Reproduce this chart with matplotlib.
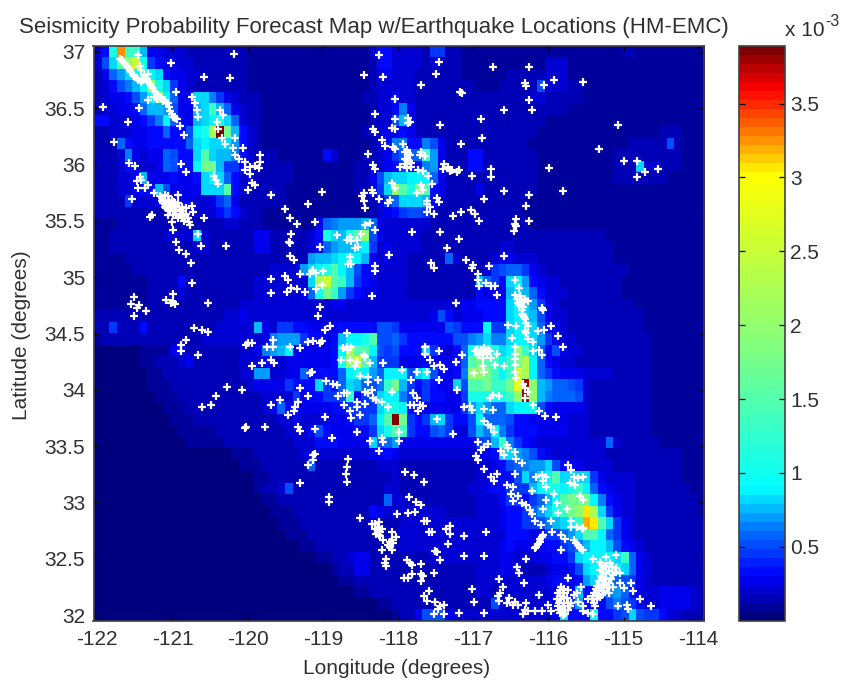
import numpy as np
import matplotlib
matplotlib.use('Agg')
import matplotlib.pyplot as plt
from matplotlib.colors import LinearSegmentedColormap

plt.rcParams['font.family'] = ['Liberation Sans', 'DejaVu Sans']
plt.rcParams['axes.unicode_minus'] = False

# forecast cells, top row = north, one base-36 digit per cell (see level_values)
rows = [
    "35eqffb443 3322222222 1111111111 1111113553 3332662211 1111111111 1111111112 2111111111",
    "37cgike654 4332222222 1111111111 1111112553 3332322211 1111111113 3311111111 1111111111",
    "248acdedc5 4433222222 1111111111 1111112343 3322222211 1111222223 3311111111 1111111111",
    "23579bdiec 6432222222 1111111111 1111112333 3322222222 1112222273 3322111111 1111111111",
    "234457adid 844cc96432 2211111111 1111122335 3322222222 2222222332 2222111111 1111111111",
    "2334458bba 744bcfb843 2211111111 1111112335 9422222222 2222222222 2211111111 1111111111",
    "553334569d 854bcdec83 2211111111 1111112337 b422222222 2222222221 1111111111 1111111111",
    "2233344558 557dejzhb5 3211111111 1111122344 5422222222 2222222211 1111111111 1111222111",
    "2228544555 558cdccca5 3211111111 1111112359 9559742222 2222222111 1111111111 2222272111",
    "2223943448 755cgcbb95 3222111111 5311122346 888fa42225 5222222211 1111111122 2222222111",
    "2223533348 755dhhb664 3222221111 1111222345 6559a42225 5222222211 1111111122 2c33222111",
    "222334b444 5445cdc853 3222221111 11112247bc cddd842222 2222222211 1111111122 2222211111",
    "22233455b7 4444cccg53 2222211111 11112246ci gehg542222 4222222211 1111111111 1111111111",
    "2222633344 4443346842 2222211111 1111122468 cccb432222 2222222111 1111111111 1111111111",
    "2222222223 3333335653 2211111111 1111112345 6776322222 2222221111 1111111111 1111111111",
    "1112222222 2222222332 2211111114 89aaab8433 3333222222 2222222111 1111111111 1111111111",
    "1122222223 333c322222 2442222235 ecbegi7433 3332222222 2222222222 2222222111 1111111111",
    "1122222222 2223322222 2442222235 8abbcd6343 3332222222 2223322222 2222222211 1111111111",
    "1111222222 2222222222 22222222ab bcdedb4343 3222228322 2234433322 2222222211 1111111111",
    "1111122222 2222222222 2223333acd egdb754333 3222222222 2367886432 2222222222 1111111111",
    "1111111222 2522222222 23333333cj kgfb654333 3222222222 b865cda543 3222222221 1111111111",
    "1111111222 2322222222 233333348e hfa6544333 3222222222 5444bcb853 3322222221 1111111111",
    "1111111222 2222222223 3333333333 3443333333 3333333344 5555cdca64 3222222222 2111111111",
    "2222222222 2222222334 3333333333 3333333333 3333475344 4555cdcb74 3322222222 2211111111",
    "2262225222 2222223333 3b43665544 4455555776 4444447655 5d66cddc85 4322222222 2211111111",
    "1222222222 2222333333 3349aaa655 45bddeg778 6555555779 ac99cddca6 4332222222 2221111111",
    "0000001111 4422222223 349abd4444 45djggd767 555c64358e efecdifc85 7433222222 2221111111",
    "0000001122 2342222223 3343344444 45eikgb666 444544458g hgfdfhjd85 4332222222 2221111111",
    "0000000112 2222222223 3aa3344855 558deda8dd d7cd75459i ihfdfkjd86 5444333322 2221111111",
    "0000000111 2222222222 344446555c 658cb879fh b656544c7g ghffhlxiba 8876322222 2221111111",
    "0000000011 1222222222 2233336455 667f567cdd 964655446e eeeefixib9 8887322222 2221111111",
    "0000000001 1122222222 2234854444 4556666cee d54444446a ca88cddd75 4444322222 2221111111",
    "0000000000 1112222222 2222334333 4445668dgz h656bc6557 d888755444 4433322222 2221111111",
    "0000000000 0111112222 2222233357 5444556ceg f655786437 b9d9655544 4433322222 2221111111",
    "0000000000 0011111222 2222223335 554444c78a 4444444444 67bf965433 3333333832 2222111111",
    "0000000000 0000000011 1222222333 3333334454 3333333333 445cca9754 3333333222 2222222111",
    "0000000000 0000000001 1122222282 2222222333 2222222222 3345789aac 7544333322 2222222111",
    "0000000000 0000000000 0112222222 2222222223 2222222222 333557c9cd gcccc64333 3222222111",
    "0000000000 0000000000 0122372222 2222222233 2222222223 3455666bde edefd85433 3222222211",
    "0000000000 0000000000 0011222222 2222222283 3222222222 333566568b dghhhd9543 3222222221",
    "0000000000 0000000000 0001112222 2222225433 3333332222 33345568ac efhimjc643 3222222221",
    "0000000000 0000000000 0000111222 2222223222 3333333333 3334556679 bcdfpmgc64 3222222222",
    "0000000000 0000000000 0000011122 2222222222 3333333333 3333555446 68acggd864 3222222222",
    "0000000000 0000000000 0000000112 2222222222 3333333333 3334544445 5679bddb75 4322222222",
    "0000000000 0000000000 0000000001 1223442222 2222333333 3334433344 556cddddcf 8432222222",
    "0000000000 0000000000 0000000000 0122442222 2222222222 3334442223 4457cddddc 8432222222",
    "0000000000 0000000000 0000000000 0011222222 2222222222 3333333334 5545accb87 6432222222",
    "0000000000 0000000000 0000000000 0000112222 2222222222 3322333333 445b5569a8 5433444432",
    "0000000000 0000000000 0000000000 0000000112 2222222222 2273333333 346a555797 6533444432",
    "0000000000 0000000000 0000000000 0000000001 2247774333 3333333333 4c555d5567 c766533222",
]
# value (x 10^-3) of each digit 0-9a-z
level_values = [0.0, 0.07, 0.14, 0.21, 0.285, 0.36, 0.44, 0.52, 0.59, 0.65, 0.71, 0.77,
                0.82, 0.88, 1.09, 1.30, 1.51, 1.72, 1.96, 2.23, 2.50, 2.77, 3.04, 3.09,
                3.15, 3.20, 3.26, 3.31, 3.39, 3.47, 3.54, 3.62, 3.69, 3.77, 3.83, 3.89]

# colour bar stops, value x 10^-3 and colour
stop_values = [0.0, 0.285, 0.59, 0.88, 1.83, 3.04, 3.31, 3.62, 3.89]
stop_colors = ['#00007f', '#0000ff', '#0070ff', '#00ffff', '#80ff80', '#ffff00', '#ff8000', '#ff0000', '#7f0000']

# earthquake epicentres (lon, lat), read against the frame before the ticks were measured
quakes = [
    (-121.67,36.89),(-121.63,36.86),(-121.58,36.83),(-121.54,36.79),(-121.50,36.75),(-121.45,36.72),
    (-121.43,36.92),(-121.41,36.83),(-121.39,36.79),(-121.34,36.73),(-121.30,36.76),(-121.30,36.69),
    (-121.26,36.65),(-121.21,36.60),(-121.17,36.57),(-121.12,36.54),(-121.08,36.53),(-121.04,36.50),
    (-121.01,36.43),(-120.97,36.385),(-120.92,36.36),(-121.30,36.53),(-121.42,36.46),(-121.90,36.47),
    (-121.57,36.34),(-121.00,36.85),(-120.94,36.60),(-120.56,36.73),(-120.23,36.72),(-120.17,36.93),
    (-120.88,36.30),(-120.83,36.225),(-121.75,36.16),(-120.73,36.56),(-120.69,36.50),(-120.66,36.44),
    (-120.64,36.385),(-120.35,36.44),(-120.32,36.40),(-120.40,36.34),(-120.38,36.275),(-120.33,36.20),
    (-120.29,36.15),(-120.16,36.20),(-120.19,36.11),(-120.06,36.11),(-120.16,36.05),(-120.10,36.02),
    (-120.03,35.99),(-119.96,35.95),(-119.90,35.955),(-119.83,36.05),(-119.83,35.99),(-119.84,35.94),
    (-120.03,35.92),(-119.96,35.885),(-119.94,35.805),(-119.90,35.79),(-119.99,35.75),(-121.55,35.985),
    (-121.47,35.955),(-120.87,35.97),(-120.80,35.90),(-120.44,35.87),(-120.41,35.83),(-120.38,35.80),
    (-119.68,35.70),(-119.02,35.73),(-119.20,35.625),(-119.50,35.58),(-119.44,35.505),(-119.35,35.45),
    (-119.11,35.465),(-119.42,35.36),(-119.45,35.29),(-119.43,35.28),(-119.44,35.17),(-119.39,35.14),
    (-119.31,35.01),(-119.50,35.00),(-119.46,34.96),(-119.68,34.97),(-119.68,34.85),(-119.48,34.86),
    (-119.42,34.89),(-119.35,34.88),(-119.24,34.86),(-119.17,35.01),(-119.13,35.05),(-119.09,35.02),
    (-119.00,35.04),(-119.15,35.04),(-119.09,34.88),(-119.02,34.915),(-119.04,34.73),(-119.07,34.645),
    (-118.91,34.56),(-118.98,34.53),(-119.04,35.25),(-118.82,35.35),(-118.65,35.34),(-118.69,35.31),
    (-118.63,35.30),(-118.56,35.31),(-118.50,35.36),(-118.58,35.24),(-118.54,35.25),(-118.45,35.44),
    (-118.39,35.46),(-118.32,35.40),(-118.65,35.16),(-118.63,35.10),(-118.67,35.10),(-118.32,35.08),
    (-118.32,35.04),(-118.36,34.82),(-118.13,35.18),
    # coast blob
    (-121.12,35.675),(-121.08,35.70),(-121.04,35.69),(-120.99,35.66),(-121.10,35.63),(-121.04,35.62),
    (-120.97,35.60),(-120.91,35.70),(-120.91,35.63),(-120.93,35.57),(-120.86,35.60),(-120.80,35.59),
    (-120.73,35.61),(-120.71,35.55),(-120.88,35.54),(-120.82,35.515),(-120.77,35.47),(-120.75,35.44),
    (-120.97,35.53),(-120.91,35.50),(-120.99,35.47),(-120.98,35.40),(-121.04,35.53),(-120.56,35.505),
    (-121.06,35.59),(-121.01,35.57),(-120.95,35.56),(-121.28,35.51),(-121.25,35.53),(-121.41,35.86),
    (-121.39,35.83),(-121.45,35.82),(-121.44,35.76),(-121.34,35.76),(-121.30,35.79),(-121.23,35.72),
    (-121.51,35.665),(-120.94,35.29),(-120.65,35.36),(-120.61,35.26),(-120.89,35.22),(-120.80,35.19),
    (-120.74,35.11),(-120.28,35.26),(-120.72,34.94),(-121.49,34.81),(-121.53,34.75),(-121.42,34.74),
    (-121.45,34.72),(-121.49,34.65),(-121.33,34.69),(-121.07,34.79),(-120.98,34.84),(-121.00,34.76),
    (-120.95,34.755),(-120.97,34.77),(-120.52,34.76),(-120.70,34.54),(-120.59,34.53),(-120.52,34.51),
    (-118.47,36.75),(-118.21,36.73),(-118.27,36.92),(-118.06,36.54),(-118.32,36.41),(-118.06,36.36),
    (-118.10,36.29),(-118.06,36.275),(-118.34,36.275),(-118.32,36.25),(-118.23,36.18),(-118.19,36.13),
    (-118.08,36.12),(-118.06,36.10),(-118.41,36.06),(-118.34,35.96),(-118.32,35.93),(-118.36,35.75),
    (-118.34,35.72),(-118.47,35.72),(-118.49,35.69),(-118.47,35.65),(-118.45,35.59),(-118.26,35.665),
    (-118.15,35.63),(-118.10,35.805),(-118.06,35.76),(-118.12,35.66),
    # north east
    (-117.48,36.86),(-117.52,36.76),(-117.72,36.66),(-117.20,36.60),(-117.18,36.59),(-116.77,36.82),
    (-116.29,36.82),(-116.35,36.675),(-116.34,36.65),(-116.10,36.66),(-115.96,36.70),(-115.59,36.69),
    (-116.29,36.53),(-116.25,36.44),(-116.62,36.44),(-116.93,36.36),(-117.46,36.31),(-116.91,36.20),
    (-117.19,36.15),(-115.12,36.31),(-115.38,36.10),(-115.04,36.00),(-114.88,36.00),(-114.77,35.90),
    (-114.88,35.86),(-114.60,35.93),(-116.03,35.94),(-115.85,35.74),(-117.88,36.37),(-117.86,36.34),
    (-117.88,36.33),(-117.95,36.15),(-117.90,36.095),(-117.86,36.05),(-117.90,36.01),(-117.84,35.98),
    (-117.90,35.94),(-117.99,35.95),(-117.71,36.08),(-117.66,36.04),(-117.73,36.05),(-117.75,35.92),
    (-117.69,35.91),(-117.62,35.87),(-117.71,35.79),(-117.69,35.75),(-117.77,35.72),(-117.57,35.80),
    (-117.50,35.68),(-117.48,35.64),(-117.64,35.65),(-117.60,35.60),(-117.64,35.62),(-117.63,35.55),
    (-117.55,35.54),(-117.41,35.97),(-117.43,35.93),(-117.36,35.95),(-117.31,35.92),(-117.33,35.91),
    (-117.21,35.92),(-117.24,35.90),(-117.04,35.87),(-116.80,35.93),(-116.80,35.86),(-116.62,35.74),
    (-116.29,35.70),(-116.88,35.67),(-116.34,35.61),(-116.47,35.495),(-116.48,35.45),(-116.46,35.43),
    (-116.49,35.39),(-116.29,35.48),(-117.30,35.52),(-117.19,35.55),(-117.06,35.57),(-117.00,35.54),
    (-116.95,35.48),(-117.83,35.38),(-117.46,35.38),(-117.21,35.32),(-117.37,35.245),(-116.62,35.17),
    (-117.12,35.14),(-117.58,35.11),(-117.55,35.07),(-117.03,35.09),(-117.05,35.065),(-116.82,35.085),
    (-116.97,35.01),(-116.96,34.96),(-116.95,34.91),(-116.86,34.94),(-116.80,34.91),(-116.74,34.91),
    (-116.71,34.83),(-117.26,34.76),(-116.48,34.96),(-116.42,34.89),(-116.48,34.83),(-116.415,34.82),
    (-116.35,34.80),(-116.305,34.775),(-116.44,34.76),(-116.39,34.70),(-116.37,34.66),(-116.35,34.62),
    (-116.305,34.56),(-116.35,34.515),(-116.11,34.70),(-116.13,34.72),(-116.57,34.57),(-116.47,34.56),
    (-116.10,34.53),(-116.00,34.56),(-116.18,34.515),
    # lower left
    (-120.80,34.44),(-120.87,34.395),(-120.87,34.34),(-120.65,34.31),(-120.01,34.40),(-119.99,34.41),
    (-119.94,34.41),(-119.93,34.21),(-119.81,34.24),(-119.74,34.38),(-119.66,34.38),(-119.66,34.44),
    (-119.44,34.375),(-119.31,34.37),(-119.68,34.265),(-119.64,34.24),(-119.20,34.425),(-119.14,34.43),
    (-119.04,34.415),(-119.02,34.43),(-118.69,34.50),(-119.17,34.15),(-119.15,34.16),(-118.96,34.08),
    (-118.87,34.06),(-118.82,34.05),(-119.31,34.02),(-119.20,33.955),(-118.80,33.95),(-120.26,34.03),
    (-120.07,34.00),(-120.41,33.95),(-120.48,33.87),(-120.59,33.86),(-119.68,33.87),(-119.57,33.92),
    (-119.33,33.90),(-119.37,33.86),(-119.39,33.82),(-119.46,33.79),(-118.98,33.77),(-120.03,33.67),
    (-120.01,33.685),(-119.77,33.68),(-119.33,33.685),(-119.31,33.65),(-119.11,33.665),(-118.89,33.59),
    (-119.13,33.44),(-119.11,33.45),(-119.14,33.39),(-119.20,33.35),(-118.67,33.40),(-118.69,33.33),
    (-118.70,33.27),(-118.69,33.20),(-119.31,33.19),(-118.93,33.07),(-118.93,33.03),(-118.52,32.89),
    (-118.03,32.92),(-118.36,32.84),(-118.32,32.835),(-118.26,32.85),(-118.32,32.79),(-118.28,32.77),
    (-118.23,32.79),(-118.25,32.73),(-118.21,32.70),(-118.10,32.77),(-118.04,32.72),(-118.10,32.70),
    (-118.15,32.65),(-118.08,32.67),(-118.10,32.61),(-118.23,32.61),(-118.17,32.53),(-118.19,32.50),
    (-118.17,32.47),(-118.69,34.38),(-118.74,34.37),(-118.67,34.35),(-118.63,34.38),(-118.76,34.265),
    (-118.65,34.265),(-118.56,34.25),(-118.58,34.21),(-118.45,34.29),(-118.47,34.31),(-118.39,34.24),
    (-118.21,34.24),(-118.51,34.13),(-118.41,34.12),(-118.41,34.07),(-118.28,34.09),(-118.45,33.99),
    (-118.41,33.975),(-118.36,34.00),(-118.34,33.93),(-118.30,33.92),(-118.23,33.90),(-118.10,33.99),
    (-118.56,33.90),(-118.56,33.86),(-118.45,33.88),(-118.73,33.98),(-118.69,33.975),(-118.73,33.87),
    (-118.65,33.82),(-118.52,33.79),(-118.63,33.76),(-118.15,33.86),(-118.56,33.635),(-118.38,33.56),
    (-118.23,33.585),(-118.21,33.555),(-118.27,33.475),(-118.01,33.64),(-118.00,33.56),
    # south east
    (-116.52,34.46),(-116.33,34.50),(-116.31,34.45),(-116.24,34.42),(-115.92,34.47),(-115.85,34.38),
    (-116.48,34.38),(-116.48,34.32),(-116.48,34.27),(-116.48,34.22),(-116.48,34.16),(-116.46,34.11),
    (-116.37,34.06),(-116.35,34.02),(-116.31,33.99),(-116.35,33.93),(-116.24,34.34),(-116.17,34.35),
    (-116.13,34.31),(-117.01,34.34),(-116.96,34.31),(-116.92,34.35),(-116.85,34.32),(-116.81,34.34),
    (-116.90,34.28),(-116.94,34.34),(-116.88,34.37),(-116.71,34.32),(-116.79,34.28),(-116.74,34.22),
    (-116.62,34.21),(-116.90,34.21),(-116.88,34.16),(-117.66,34.38),(-117.66,34.32),(-117.48,34.34),
    (-117.17,34.31),(-117.26,34.25),(-117.59,34.265),(-117.55,34.21),(-117.47,34.22),(-117.41,34.19),
    (-117.63,34.16),(-117.77,34.16),(-117.96,34.18),(-117.85,34.09),(-117.48,34.09),(-117.24,34.00),
    (-117.02,34.15),(-116.81,33.93),(-116.77,33.96),(-116.69,33.95),(-117.82,33.98),(-117.77,33.93),
    (-117.80,33.87),(-117.86,33.87),(-117.73,33.87),(-117.69,33.865),(-117.75,33.82),(-117.15,33.86),
    (-117.07,33.865),(-117.04,33.83),(-116.88,33.84),(-116.77,33.83),(-116.24,33.87),(-116.17,33.82),
    (-116.09,33.78),(-115.94,33.77),(-117.51,33.75),(-117.30,33.62),(-116.88,33.73),(-116.83,33.70),
    (-116.79,33.68),(-116.76,33.64),(-116.97,33.55),(-116.83,33.53),(-116.88,33.505),(-116.93,33.48),
    (-116.99,33.43),(-116.97,33.39),(-116.88,33.32),(-116.59,33.525),(-116.57,33.50),(-116.48,33.46),
    (-116.66,33.47),(-116.63,33.44),(-116.46,33.40),(-116.39,33.37),(-116.48,33.27),(-116.72,33.27),
    (-116.79,33.25),(-116.76,33.21),(-116.59,33.18),(-116.50,33.16),(-116.53,33.10),(-116.44,33.08),
    (-116.51,33.04),(-116.39,33.02),(-116.33,33.00),(-116.28,32.96),(-116.26,32.92),(-116.21,32.86),
    (-116.14,32.83),(-116.26,33.12),(-116.01,32.86),(-115.99,32.77),(-115.88,32.74),(-115.82,32.71),
    (-115.71,32.70),(-115.65,32.65),(-115.58,32.61),(-116.11,32.74),(-116.15,32.68),(-116.22,32.63),
    (-115.87,32.61),(-116.20,33.25),(-116.13,33.265),(-116.07,33.25),(-116.11,33.21),(-116.07,33.16),
    (-115.96,33.10),(-116.07,33.05),(-115.93,33.02),(-116.11,32.97),(-115.91,32.93),(-115.80,32.97),
    (-115.78,33.35),(-115.74,33.31),(-115.71,33.25),(-115.76,33.19),(-115.65,33.24),(-115.58,33.25),
    (-115.69,33.18),(-115.63,33.08),(-115.58,33.05),(-115.74,32.86),(-115.74,32.81),(-115.67,32.81),
    (-115.60,32.79),(-115.58,32.80),(-117.92,33.29),(-117.81,33.26),(-117.68,33.20),(-117.87,33.07),
    (-117.78,33.03),(-117.72,33.00),(-117.88,32.93),(-117.79,32.945),(-117.68,32.86),(-117.63,32.86),
    (-117.61,32.77),(-117.57,32.77),(-117.38,32.79),(-117.33,32.82),(-117.33,32.75),(-117.15,32.73),
    (-116.86,32.77),(-117.36,32.66),(-117.53,32.60),(-117.50,32.59),(-117.46,32.52),(-117.15,32.56),
    (-116.88,32.56),(-116.34,32.53),(-116.45,32.46),(-116.42,32.41),(-117.90,32.52),(-117.86,32.50),
    (-117.83,32.48),(-117.72,32.49),(-117.55,32.41),(-117.72,32.40),(-117.69,32.38),(-117.72,32.34),
    (-117.94,32.37),(-117.88,32.37),(-117.83,32.40),(-117.61,32.25),(-117.68,32.21),(-117.64,32.17),
    (-117.53,32.16),(-117.47,32.12),(-117.41,32.13),(-117.55,32.05),(-117.41,32.05),(-117.49,32.10),
    (-117.21,32.06),(-117.04,32.27),(-117.02,32.16),(-116.88,32.06),(-116.69,32.36),(-116.68,32.235),
    (-116.70,32.21),(-116.64,32.29),(-116.69,32.17),(-116.56,32.19),(-116.58,32.15),(-116.48,32.16),
    (-116.44,32.13),(-116.50,32.13),(-116.36,32.32),(-116.16,32.22),(-116.33,32.15),(-116.35,32.09),
    (-116.37,32.05),(-116.31,32.08),(-116.22,32.08),(-116.13,32.08),(-116.00,32.08),(-116.05,32.13),
    (-115.87,32.29),(-115.91,32.235),(-115.85,32.235),(-115.78,32.26),(-115.93,32.18),(-115.87,32.18),
    (-115.80,32.19),(-115.74,32.15),(-115.91,32.12),(-115.85,32.12),(-115.78,32.09),(-115.89,32.06),
    (-115.82,32.05),(-115.71,32.22),(-115.67,32.235),(-115.61,32.29),(-115.78,32.37),(-115.65,32.16),
    (-115.58,32.12),(-115.52,32.18),(-115.58,32.08),(-115.52,32.06),(-115.45,32.05),(-115.36,32.51),
    (-115.30,32.47),(-115.23,32.50),(-115.15,32.45),(-115.36,32.44),(-115.28,32.41),(-115.19,32.39),
    (-115.10,32.41),(-115.32,32.35),(-115.25,32.32),(-115.19,32.29),(-115.36,32.29),(-115.41,32.23),
    (-115.34,32.22),(-115.45,32.21),(-115.47,32.18),(-115.25,32.235),(-115.10,32.32),(-115.04,32.28),
    (-114.95,32.32),(-114.93,32.25),(-114.84,32.18),(-114.69,32.12),(-115.01,32.13),(-115.12,32.12),
    (-115.00,32.10),(-115.45,32.53),(-115.28,32.55),(-115.15,32.57),(-115.60,32.61),(-115.43,32.12),
    # dense parts: north fault, coast blob, border clusters
    (-121.65,36.875),(-121.61,36.845),(-121.56,36.81),(-121.52,36.77),(-121.48,36.735),(-121.43,36.70),
    (-121.40,36.69),(-121.37,36.70),(-121.36,36.75),(-121.32,36.71),(-121.28,36.67),(-121.24,36.63),
    (-121.19,36.585),(-121.15,36.555),(-121.10,36.52),(-121.06,36.50),(-121.03,36.47),(-120.99,36.41),
    (-120.95,36.37),(-121.22,36.56),(-121.18,36.54),
    (-121.14,35.69),(-121.12,35.65),(-121.08,35.66),(-121.06,35.63),(-121.02,35.65),(-121.00,35.61),
    (-120.96,35.64),(-120.94,35.60),(-120.90,35.60),(-120.88,35.57),(-120.84,35.56),(-120.86,35.52),
    (-120.80,35.54),(-120.78,35.50),(-120.83,35.48),(-120.94,35.53),(-121.08,35.60),(-120.98,35.56),
    (-115.33,32.48),(-115.28,32.46),(-115.20,32.46),(-115.32,32.42),(-115.24,32.43),(-115.16,32.42),
    (-115.35,32.38),(-115.28,32.37),(-115.22,32.36),(-115.38,32.34),(-115.30,32.31),(-115.27,32.28),
    (-115.33,32.30),(-115.40,32.30),(-115.42,32.27),(-115.38,32.25),(-115.44,32.24),(-115.31,32.25),
    (-115.36,32.20),(-115.40,32.18),(-115.44,32.15),
    (-115.89,32.26),(-115.83,32.27),(-115.89,32.21),(-115.83,32.20),(-115.90,32.15),(-115.84,32.15),
    (-115.78,32.15),(-115.87,32.09),(-115.82,32.09),(-115.76,32.12),(-115.85,32.04),(-115.90,32.09),
    (-116.45,34.80),(-116.40,34.79),(-116.36,34.77),(-116.42,34.74),(-116.38,34.73),(-116.39,34.67),
    (-116.36,34.64),(-116.33,34.59),(-117.93,36.08),(-117.88,36.07),(-117.92,36.02),(-117.87,36.00),
    (-117.93,35.97),(-117.85,35.95),(-116.98,34.35),(-116.90,34.33),(-116.87,34.34),(-116.97,34.32),
    (-116.83,34.35),(-116.15,32.71),(-116.13,32.72),(-116.18,32.66),(-116.20,32.64),(-115.68,32.67),
    (-115.62,32.63),(-118.28,32.81),(-118.30,32.75),(-118.27,32.74),(-118.25,32.77),(-118.12,32.68),
    (-118.12,32.64),
]

lon_ticks = [-122, -121, -120, -119, -118, -117, -116, -115, -114]
lat_ticks = [32, 32.5, 33, 33.5, 34, 34.5, 35, 35.5, 36, 36.5, 37]
lat_labels = ['32', '32.5', '33', '33.5', '34', '34.5', '35', '35.5', '36', '36.5', '37']
cbar_ticks = [0.5, 1, 1.5, 2, 2.5, 3, 3.5]
cbar_labels = ['0.5', '1', '1.5', '2', '2.5', '3', '3.5']
peak = 3.89


def readGrid():
    grid = []
    for row in rows:
        cells = row.replace(' ', '')
        grid.append([level_values[int(c, 36)] for c in cells])
    return np.array(grid)


W, H = 841, 683
text_col = '#303030'
fig = plt.figure(figsize=(W / 100, H / 100), dpi=100)
ax = fig.add_axes([93.5 / W, 1 - 620.7 / H, 610.5 / W, 574.7 / H])
cax = fig.add_axes([738.5 / W, 1 - 620.7 / H, 46 / W, 574.7 / H])

cmap = LinearSegmentedColormap.from_list('forecast', [(v / peak, c) for v, c in zip(stop_values, stop_colors)], N=64)
xlim = (-122.05, -113.93)
ylim = (31.95, 37.053)
im = ax.imshow(readGrid(), extent=[xlim[0], xlim[1], ylim[0], ylim[1]], aspect='auto', origin='upper',
               cmap=cmap, vmin=0, vmax=peak, interpolation='nearest')

# rescale the read positions onto the measured tick spacing
lons = -122 + (np.array([q[0] for q in quakes]) + 122) * 1.012 - 0.031
lats = 37 - (37 - np.array([q[1] for q in quakes])) * 1.0195 + 0.053
ax.plot(lons, lats, '+', color='white', ms=5.3, mew=1.6)
ax.set_xlim(xlim)
ax.set_ylim(ylim)

ax.set_xticks(lon_ticks)
ax.set_xticklabels([str(t) for t in lon_ticks])
ax.set_yticks(lat_ticks)
ax.set_yticklabels(lat_labels)
ax.tick_params(direction='in', length=3, width=0.9, top=True, right=True, labelsize=15,
               labelcolor=text_col, pad=6)
ax.tick_params(axis='x', pad=7)

fig.text(374 / W, 1 - 27 / H, 'Seismicity Probability Forecast Map w/Earthquake Locations (HM-EMC)',
         fontsize=16, color=text_col, ha='center', va='center')
fig.text(397 / W, 1 - 668 / H, 'Longitude (degrees)', fontsize=15, color=text_col, ha='center', va='center')
fig.text(22 / W, 1 - 335 / H, 'Latitude (degrees)', fontsize=15, color=text_col, ha='center', va='center',
         rotation=90)

cb = fig.colorbar(im, cax=cax)
cb.set_ticks(cbar_ticks)
cb.set_ticklabels(cbar_labels)
cb.ax.minorticks_off()
cax.tick_params(direction='in', length=4.5, width=0.9, left=True, right=True, labelsize=15,
                labelcolor=text_col, pad=4)

for a in (ax, cax):
    for s in a.spines.values():
        s.set_linewidth(1.2)
        s.set_color('#404040')

fig.text(785 / W, 1 - 36 / H, 'x 10', fontsize=15, color=text_col)
fig.text(825 / W, 1 - 26 / H, '-3', fontsize=11.5, color=text_col)

fig.savefig('out.png', dpi=100)
